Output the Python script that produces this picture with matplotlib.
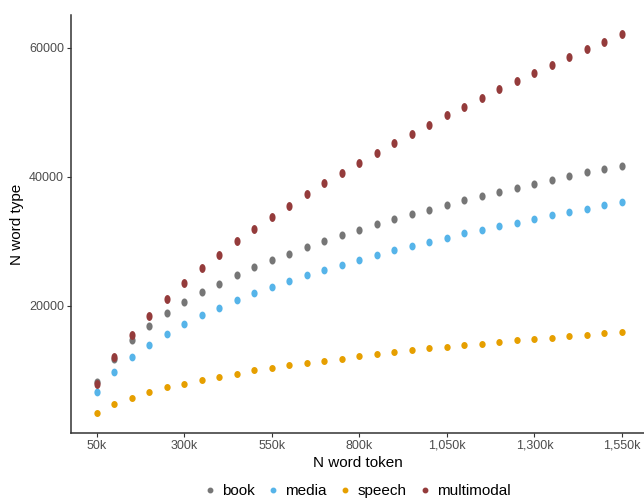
import matplotlib
matplotlib.use('Agg')
import matplotlib.pyplot as plt
import numpy as np
from matplotlib.path import Path

plt.rcParams['font.family'] = ['Liberation Sans', 'DejaVu Sans']

# word tokens (in thousands)
tokens_k = list(range(50, 1551, 50))

book = [8170, 11800, 14680, 16950, 18910, 20570, 22120, 23460, 24760, 26000,
        27080, 28110, 29150, 30080, 30960, 31830, 32670, 33440, 34220, 34930,
        35710, 36380, 37000, 37670, 38290, 38860, 39480, 40100, 40720, 41240,
        41750]
media = [6670, 9790, 12140, 14000, 15710, 17210, 18560, 19740, 20880, 21970,
         22900, 23830, 24760, 25580, 26400, 27130, 27910, 28630, 29300, 29950,
         30590, 31270, 31780, 32400, 32920, 33450, 34110, 34620, 35090, 35660,
         36120]
speech = [3410, 4750, 5790, 6620, 7390, 7950, 8530, 8990, 9500, 10030,
          10390, 10800, 11210, 11520, 11830, 12200, 12510, 12820, 13130, 13440,
          13640, 13900, 14160, 14370, 14680, 14880, 15090, 15350, 15550, 15760,
          15970]
multimodal = [7860, 12040, 15450, 18450, 21090, 23570, 25840, 27960, 30030, 31990,
              33850, 35550, 37360, 39020, 40670, 42220, 43770, 45270, 46710, 48110,
              49570, 50850, 52200, 53590, 54840, 56080, 57360, 58650, 59790, 60980,
              62220]

series = [
    ('book', book, '#767676', 1.3, 5.8),
    ('media', media, '#56B4E9', 1.25, 5.6),
    ('speech', speech, '#E69F00', 1.1, 5.0),
    ('multimodal', multimodal, '#943B3B', 1.45, 6.4),
]


def ellipse(stretch):
    t = np.linspace(0, 2 * np.pi, 40)
    verts = np.column_stack([np.cos(t) / stretch, np.sin(t)])
    return Path(verts, closed=True)


fig = plt.figure(figsize=(6.44, 5.0), dpi=100)
ax = fig.add_axes([71 / 644, 67 / 500, 1 - 71 / 644, 418 / 500])

handles = []
for name, vals, col, stretch, ms in series:
    ax.plot(tokens_k, vals, linestyle='none', marker=ellipse(stretch),
            markersize=ms, color=col, markeredgewidth=0)
    # small round dot for the legend
    h, = ax.plot([], [], linestyle='none', marker='o', markersize=3.2,
                 color=col, label=name)
    handles.append(h)

ax.set_xlim(-24, 1613)
ax.set_ylim(310, 65116)

xt = [50, 300, 550, 800, 1050, 1300, 1550]
ax.set_xticks(xt)
ax.set_xticklabels([f'{v:,}k' for v in xt])
ax.set_yticks([20000, 40000, 60000])
ax.set_yticklabels(['20000', '40000', '60000'])

for s in ['top', 'right']:
    ax.spines[s].set_visible(False)
for s in ['left', 'bottom']:
    ax.spines[s].set_color('#333333')
    ax.spines[s].set_linewidth(1.1)
ax.tick_params(axis='both', colors='#333333', labelcolor='#4D4D4D',
               labelsize=9, length=3, width=0.8, pad=2)

ax.set_xlabel('N word token', fontsize=11, labelpad=3)
ax.set_ylabel('N word type', fontsize=11, labelpad=4)

fig.legend(handles, [h.get_label() for h in handles],
           loc='center', bbox_to_anchor=(358 / 644, 9 / 500), ncol=4,
           frameon=False, fontsize=11, handlelength=0.6, handletextpad=0.5,
           columnspacing=0.9, borderpad=0)

fig.savefig('out.png', dpi=100)
